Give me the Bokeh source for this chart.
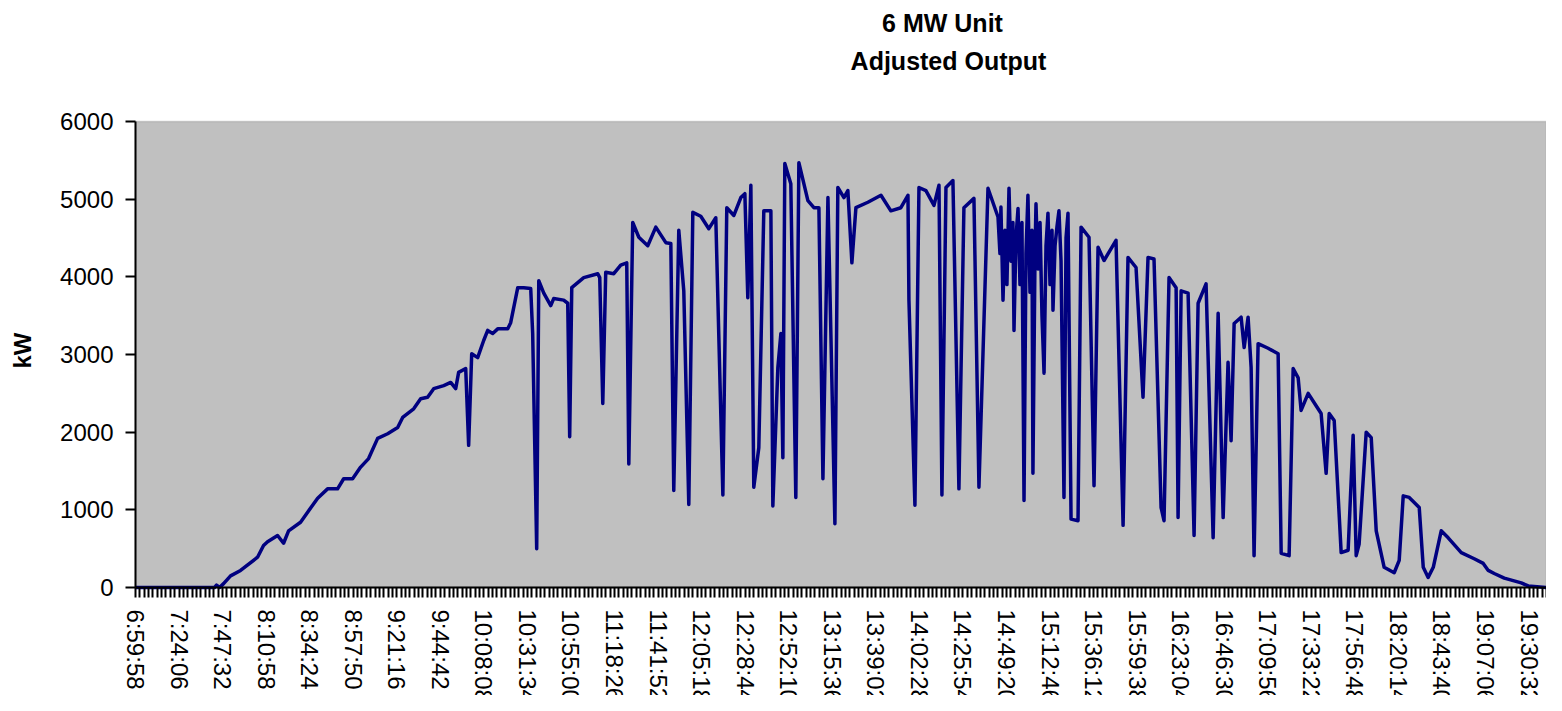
import math
from bokeh.plotting import figure
from bokeh.models import Range1d, FixedTicker, Label, BoxAnnotation
from bokeh.embed import file_html
from bokeh.resources import INLINE

# ---------------- data ----------------
chart_title = "6 MW Unit"
chart_subtitle = "Adjusted Output"
y_label = "kW"

time_labels = ["6:59:58", "7:24:06", "7:47:32", "8:10:58", "8:34:24", "8:57:50",
               "9:21:16", "9:44:42", "10:08:08", "10:31:34", "10:55:00", "11:18:26",
               "11:41:52", "12:05:18", "12:28:44", "12:52:10", "13:15:36", "13:39:02",
               "14:02:28", "14:25:54", "14:49:20", "15:12:46", "15:36:12", "15:59:38",
               "16:23:04", "16:46:30", "17:09:56", "17:33:22", "17:56:48", "18:20:14",
               "18:43:40", "19:07:06", "19:30:32"]
categories_per_label = 40
category_count = 1296

y_ticks = [0, 1000, 2000, 3000, 4000, 5000, 6000]
y_max = 6000

# category position of each traced vertex and its output in kW
sample_pos = [0, 72.6, 74.4, 77.2, 80.9, 87.3, 96.5, 112.1, 117.6, 121.3, 130.5, 136.0, 140.6,
              151.6, 158.1, 167.3, 176.4, 185.6, 191.2, 199.4, 206.8, 214.1, 222.4, 231.6,
              240.8, 245.4, 255.5, 261.9, 268.3, 273.9, 283.1, 289.5, 294.1, 296.8, 303.3,
              306.0, 308.8, 314.3, 319.8, 323.5, 328.1, 332.7, 341.9, 344.6, 351.1, 356.6,
              363.0, 364.8, 368.5, 370.4, 375.0, 381.4, 384.1, 393.3, 397.0, 398.8, 400.7,
              411.7, 424.6, 426.4, 429.2, 431.9, 439.3, 445.7, 451.2, 453.1, 456.7, 462.3,
              470.5, 477.9, 487.1, 491.7, 494.4, 499.0, 503.6, 508.2, 511.9, 519.2, 526.6,
              533.0, 539.5, 543.1, 549.6, 556.0, 559.7, 562.4, 565.2, 567.9, 572.5, 577.1,
              583.6, 585.4, 590.0, 592.8, 594.6, 596.4, 601.9, 606.5, 609.3, 617.6, 623.1,
              627.7, 631.4, 636.0, 638.7, 642.4, 645.1, 650.7, 654.3, 658.0, 661.7, 672.7,
              684.7, 693.8, 703.0, 709.5, 710.4, 715.9, 719.6, 726.0, 733.4, 738.0, 740.7,
              744.4, 750.8, 756.3, 760.9, 770.1, 774.7, 783.0,
              792.2, 794.0, 794.9, 796.8, 798.6, 800.4, 802.3, 804.1, 805.9, 806.9, 808.7,
              810.6, 812.4, 814.2, 816.1, 817.9, 819.7, 821.6, 823.4, 824.3, 826.2, 827.1,
              828.9, 830.8, 832.6, 834.5, 836.3, 838.1, 840.0, 841.8, 842.7, 844.6, 846.4,
              848.2, 850.1, 852.8, 854.7, 856.5, 859.3, 865.7, 868.5,
              875.8, 880.4, 884.1, 889.6, 900.6, 907.1, 911.6, 919.0, 925.4, 930.0, 935.5,
              942.0, 944.7, 949.3, 955.8, 957.6, 960.4, 966.8, 972.3, 976.0, 983.3, 989.8,
              994.4, 999.0, 1003.5, 1006.3, 1009.1, 1015.5, 1018.3, 1021.9, 1024.7, 1027.4,
              1031.1, 1040.3, 1049.5, 1052.3, 1059.6, 1063.3, 1067.9, 1070.6, 1077.1, 1084.4,
              1089.0, 1093.6, 1096.4, 1101.0, 1107.4, 1113.8, 1118.4, 1121.2, 1123.9, 1130.4,
              1135.0, 1139.6, 1146.9, 1156.1, 1160.7, 1164.4, 1169.9, 1179.1, 1182.8, 1187.3,
              1192.0, 1199.3, 1205.7, 1217.7, 1229.6, 1237.9, 1242.5, 1248.0, 1257.2, 1272.8,
              1279.2, 1296]

output_kw = [0, 0, 30, 0, 50, 150, 220, 390, 540, 590, 670, 570, 730,
             840, 970, 1150, 1270, 1270, 1400, 1400, 1550, 1660, 1920, 1980,
             2060, 2190, 2300, 2430, 2450, 2560, 2600, 2640, 2560, 2770, 2820,
             1830, 3010, 2960, 3180, 3310, 3270, 3330, 3330, 3410, 3860, 3860,
             3850, 3270, 500, 3950, 3790, 3630, 3720, 3700, 3660, 1940, 3860,
             3990, 4040, 3990, 2370, 4060, 4040, 4150, 4180, 1590, 4700, 4510,
             4400, 4640, 4440, 4430, 1250, 4600, 3820, 1070, 4830, 4780, 4620,
             4760, 1190, 4890, 4790, 5020, 5070, 3730, 5180, 1290, 1800, 4850,
             4850, 1050, 2830, 3270, 1670, 5460, 5200, 1160, 5470, 4980, 4890,
             4890, 1400, 5020, 3270, 820, 5150, 5020, 5110, 4180, 4890, 4960,
             5050, 4850, 4890, 5050, 3700, 1060, 5150, 5110, 4920, 5180, 1190,
             5150, 5240, 1270, 4890, 5010, 1290, 5140,
             4770, 4300, 4900, 3700, 4600, 3900, 5140, 4200, 4700, 3310, 4500,
             4880, 3900, 4700, 1120, 4300, 5050, 3800, 4600, 1470, 4300, 4940,
             4100, 4700, 3500, 2760, 4400, 4820, 3900, 4600, 3570, 4400, 4650,
             4850, 4200, 1160, 4500, 4820, 880, 860, 4640,
             4510, 1310, 4380, 4210, 4470, 800, 4250, 4120, 2450, 4250, 4230,
             1030, 860, 3990, 3860, 900, 3820, 3790, 670, 3660, 3910, 640,
             3530, 900, 2900, 1890, 3400, 3480, 3090, 3480, 2830, 410,
             3140, 3080, 3010, 440, 410, 2820, 2700, 2280, 2500, 2340,
             2240, 1470, 2240, 2150, 450, 480, 1960, 410, 560, 2000,
             1930, 730, 260, 190, 350, 1180, 1160, 1030, 260, 130,
             260, 730, 640, 450, 370, 310, 220, 180, 120, 60,
             20, 0]

# ---------------- figure ----------------
FONT = "Liberation Sans"
W, H = 1546, 695
LEFT_PX = 135         # space left of the grey area (tick labels, axis title)
TOP_PX = 121          # space above the grey area (titles)
PLOT_H = 466          # pixel height of the 0..6000 band
# the frame fills the whole canvas; axes are drawn inside it so nothing is clipped
kw_per_px = y_max / PLOT_H
y_top = y_max + TOP_PX * kw_per_px
y_bottom = y_top - H * kw_per_px
x_start = -category_count * LEFT_PX / (W - LEFT_PX)

p = figure(width=W, height=H, output_backend="svg", toolbar_location=None,
           x_range=Range1d(x_start, category_count),
           y_range=Range1d(y_bottom, y_top),
           min_border_left=0, min_border_top=0, min_border_right=0,
           min_border_bottom=0)
p.title = None
p.background_fill_color = "white"
p.border_fill_color = "white"
p.outline_line_color = None
p.grid.visible = False

# grey plot area covering 0..6000 only
p.add_layout(BoxAnnotation(left=0, bottom=0, top=y_max, fill_color="#c0c0c0",
                           fill_alpha=1.0, line_color="#808080", line_width=1.5,
                           level="underlay"))

p.line(sample_pos, output_kw, line_color="#000080", line_width=3.5, line_join="round")

# x axis drawn at 0 kW
major = [i * categories_per_label for i in range(len(time_labels))]
minor = [t for t in range(0, category_count + 1, 4) if t % categories_per_label]
xa = p.xaxis[0]
xa.fixed_location = 0
xa.bounds = (0, category_count)
xa.ticker = FixedTicker(ticks=major, minor_ticks=minor)
xa.major_label_overrides = {m: lab for m, lab in zip(major, time_labels)}
xa.major_label_orientation = "vertical"
xa.major_label_text_font = FONT
xa.major_label_text_font_size = "24px"
xa.major_label_text_color = "black"
xa.major_label_standoff = 12
xa.major_tick_in = 0
xa.major_tick_out = 10
xa.minor_tick_in = 0
xa.minor_tick_out = 10
xa.major_tick_line_width = 2
xa.minor_tick_line_width = 2
xa.major_tick_line_color = "black"
xa.minor_tick_line_color = "black"
xa.axis_line_width = 2
xa.axis_line_color = "black"

# y axis drawn at category 0, limited to 0..6000
ya = p.yaxis[0]
ya.fixed_location = 0
ya.bounds = (0, y_max)
ya.ticker = FixedTicker(ticks=y_ticks, minor_ticks=[])
ya.major_label_text_font = FONT
ya.major_label_text_font_size = "24px"
ya.major_label_text_color = "black"
ya.major_label_standoff = 12
ya.major_tick_in = 0
ya.major_tick_out = 10
ya.major_tick_line_width = 2
ya.major_tick_line_color = "black"
ya.minor_tick_line_color = None
ya.axis_line_width = 2
ya.axis_line_color = "black"

# axis title and chart titles (screen offsets from the frame's bottom-left corner)
p.add_layout(Label(x=22, y=H - 350, x_units="screen", y_units="screen",
                   text=y_label, angle=math.pi / 2, text_align="center",
                   text_baseline="middle", text_font=FONT, text_font_style="bold",
                   text_font_size="24px", text_color="black"))
p.add_layout(Label(x=942, y=H - 22, x_units="screen", y_units="screen",
                   text=chart_title, text_align="center", text_baseline="middle",
                   text_font=FONT, text_font_style="bold", text_font_size="25px",
                   text_color="black"))
p.add_layout(Label(x=948, y=H - 60, x_units="screen", y_units="screen",
                   text=chart_subtitle, text_align="center", text_baseline="middle",
                   text_font=FONT, text_font_style="bold", text_font_size="25px",
                   text_color="black"))

open("out.html", "w").write(file_html(p, INLINE))
